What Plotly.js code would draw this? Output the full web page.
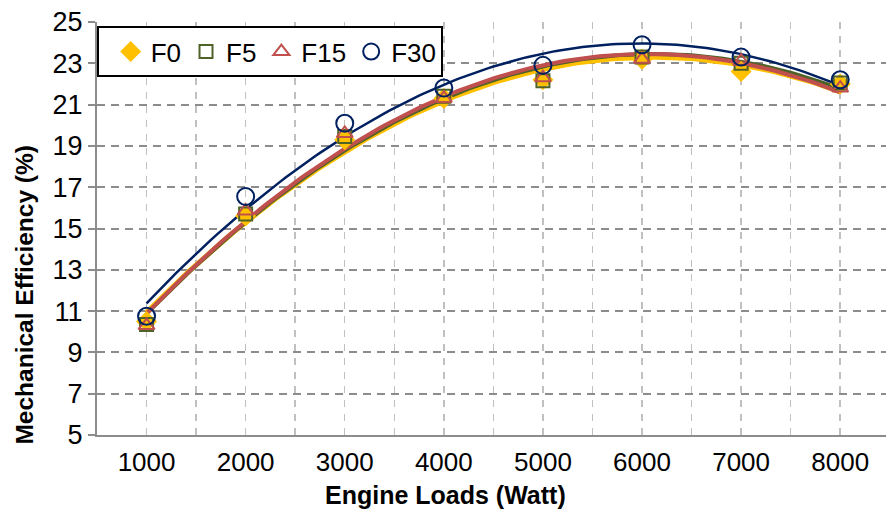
<!DOCTYPE html>
<html>
<head>
<meta charset="utf-8">
<script src="https://cdn.plot.ly/plotly-3.0.1.min.js"></script>
<style>html,body{margin:0;padding:0;background:#fff;}#chart{width:886px;height:510px;}</style>
</head>
<body>
<div id="chart"></div>
<script>
// Data
var loads = [1000, 2000, 3000, 4000, 5000, 6000, 7000, 8000];
var F0  = [10.5, 15.6, 19.3, 21.3, 22.2, 23.2, 22.6, 22.0];
var F5  = [10.35, 15.7, 19.45, 21.4, 22.15, 23.3, 23.0, 22.05];
var F15 = [10.3, 15.85, 19.6, 21.3, 22.3, 23.2, 23.1, 21.8];
var F30 = [10.75, 16.55, 20.1, 21.8, 22.9, 23.9, 23.3, 22.2];
var seriesNames = ['F0', 'F5', 'F15', 'F30'];
var yTicks = [5, 7, 9, 11, 13, 15, 17, 19, 21, 23, 25];
var xTicks = [1000, 2000, 3000, 4000, 5000, 6000, 7000, 8000];
var xTitle = 'Engine Loads (Watt)';
var yTitle = 'Mechanical Efficiency (%)';

// Order-2 polynomial trendline (least squares), like the spreadsheet trendline
function polyFit2(xs, ys) {
  var n = xs.length, s = [0,0,0,0,0], t = [0,0,0];
  for (var i = 0; i < n; i++) {
    var x = xs[i] / 1000, p = 1;
    for (var k = 0; k < 5; k++) { s[k] += p; if (k < 3) t[k] += p * ys[i]; p *= x; }
  }
  var A = [[s[0], s[1], s[2], t[0]], [s[1], s[2], s[3], t[1]], [s[2], s[3], s[4], t[2]]];
  for (var c = 0; c < 3; c++) {
    for (var r = c + 1; r < 3; r++) {
      var f = A[r][c] / A[c][c];
      for (var j = c; j < 4; j++) A[r][j] -= f * A[c][j];
    }
  }
  var b = [0,0,0];
  for (var r2 = 2; r2 >= 0; r2--) {
    var sum = A[r2][3];
    for (var j2 = r2 + 1; j2 < 3; j2++) sum -= A[r2][j2] * b[j2];
    b[r2] = sum / A[r2][r2];
  }
  return function (xv) { var x = xv / 1000; return b[0] + b[1] * x + b[2] * x * x; };
}

var data = [F0, F5, F15, F30];
var colors = ['#FFC000', '#4F6228', '#C0504D', '#002060'];
var lineW = [5, 4, 4, 2.5];
var symbols = ['diamond', 'square-open', 'triangle-up-open', 'circle-open'];
var sizes = [14, 13, 14, 17];

var traces = [];
for (var s = 0; s < 4; s++) {
  var fit = polyFit2(loads, data[s]);
  var fx = [], fy = [];
  var x0 = loads[0], x1 = loads[loads.length - 1];
  for (var k = 0; k <= 140; k++) { var xv = x0 + (x1 - x0) * k / 140; fx.push(xv); fy.push(fit(xv)); }
  traces.push({x: fx, y: fy, mode: 'lines', line: {color: colors[s], width: lineW[s]},
    showlegend: false, hoverinfo: 'skip'});
}
for (var s2 = 0; s2 < 4; s2++) {
  traces.push({x: loads, y: data[s2], name: seriesNames[s2], mode: 'markers',
    marker: {symbol: symbols[s2], size: sizes[s2], color: colors[s2],
      line: {color: colors[s2], width: 2}}});
}

var FONT = 'Liberation Sans, Arial, sans-serif';
var layout = {
  width: 886, height: 510,
  margin: {l: 97, r: 0, t: 22, b: 75},
  paper_bgcolor: '#fff', plot_bgcolor: '#fff',
  font: {family: FONT, size: 26, color: '#000'},
  showlegend: true,
  legend: {orientation: 'h', x: 0, y: 0.99, xanchor: 'left', yanchor: 'top',
    bordercolor: '#000', borderwidth: 2, bgcolor: '#fff',
    title: {text: ' ', font: {family: FONT, size: 6}},
    font: {family: FONT, size: 26, color: '#000'}},
  xaxis: {
    range: [500, 8462], tickvals: xTicks, ticktext: xTicks.map(String),
    showline: true, linecolor: '#8c8c8c', linewidth: 2,
    showgrid: true, gridcolor: '#c0c0c0', gridwidth: 1.5, griddash: '7px,7px',
    minor: {dtick: 500, tick0: 0, showgrid: true, gridcolor: '#c0c0c0', gridwidth: 1.5, griddash: '7px,7px'},
    ticks: '', ticklabelstandoff: 3, zeroline: false,
    tickfont: {family: FONT, size: 26}
  },
  yaxis: {
    range: [5, 25], tickvals: yTicks, ticktext: yTicks.map(String),
    showline: true, linecolor: '#8c8c8c', linewidth: 2,
    showgrid: true, gridcolor: '#8c8c8c', gridwidth: 2, griddash: '8px,6px',
    ticks: 'outside', ticklen: 7, tickcolor: '#8c8c8c', tickwidth: 2,
    zeroline: false, tickfont: {family: FONT, size: 27}
  },
  annotations: [
    {text: '<b>' + xTitle + '</b>', xref: 'paper', yref: 'paper', x: 0.442, y: -0.145,
      xanchor: 'center', yanchor: 'middle', showarrow: false, borderpad: 0,
      font: {family: FONT, size: 25, color: '#000'}},
    {text: '<b>' + yTitle + '</b>', xref: 'paper', yref: 'paper', x: 0, y: 0.34,
      xshift: -72, xanchor: 'center', yanchor: 'middle', textangle: -90, showarrow: false,
      font: {family: FONT, size: 24.5, color: '#000'}}
  ]
};

Plotly.newPlot('chart', traces, layout, {staticPlot: true, displayModeBar: false});
</script>
</body>
</html>
